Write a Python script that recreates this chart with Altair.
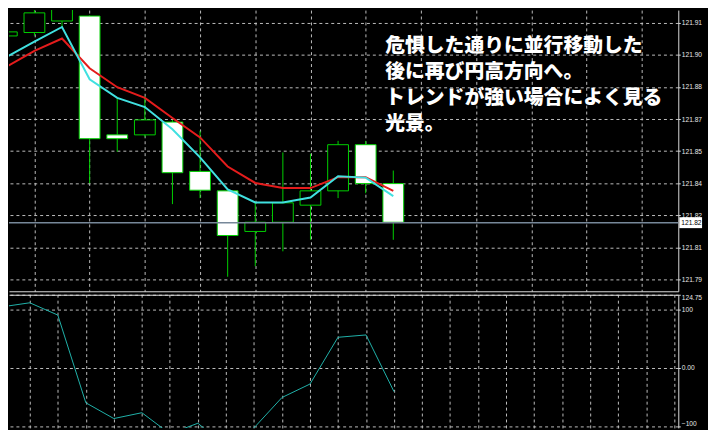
import altair as alt
import pandas as pd

# ---- data ----
bar = list(range(15))
opens = [121.9089, 121.9105, 121.9159, 121.9182, 121.8626, 121.8626, 121.8686, 121.8455,
         121.8364, 121.8174, 121.8217, 121.8297, 121.8364, 121.8580, 121.8398]
highs = [121.9146, 121.9261, 121.9270, 121.9185, 121.8799, 121.8807, 121.8696, 121.8645,
         121.8367, 121.8313, 121.8544, 121.8538, 121.8598, 121.8598, 121.8459]
lows = [121.8960, 121.9090, 121.9131, 121.8399, 121.8547, 121.8617, 121.8302, 121.8330,
        121.7962, 121.8011, 121.8081, 121.8135, 121.8330, 121.8353, 121.8135]
closes = [121.9108, 121.9197, 121.9219, 121.8608, 121.8608, 121.8696, 121.8449, 121.8367,
          121.8155, 121.8217, 121.8308, 121.8364, 121.8580, 121.8398, 121.8217]
ma_fast = [121.8992, 121.9062, 121.9131, 121.8886, 121.8799, 121.8756, 121.8652, 121.8521,
           121.8371, 121.8310, 121.8310, 121.8333, 121.8432, 121.8426, 121.8339]
ma_slow = [121.8946, 121.9019, 121.9077, 121.8938, 121.8849, 121.8799, 121.8705, 121.8614,
           121.8478, 121.8401, 121.8377, 121.8377, 121.8428, 121.8428, 121.8364]
cci = [104, 111, 90, -60, -87, -77, -113, -95, -135, -103, -51, -28, 52, 56, -41]

bid = [121.8215]
price_ticks = [121.795, 121.81, 121.825, 121.84, 121.855, 121.87, 121.885, 121.9, 121.915]
cci_ticks = [124.758, 100, 0, -100]
grid_bars = list(range(1, 25))
note_lines = ["危惧した通りに並行移動した", "後に再び円高方向へ。",
              "トレンドが強い場合によく見る", "光景。"]

GREEN = "#00d000"
GRID = "#bdbdbd"
AXIS = "#dcdcdc"
LABEL = "#e6e6e6"
LFS = 6.7

df = pd.DataFrame({"bar": bar, "open": opens, "high": highs, "low": lows, "close": closes,
                   "ma_fast": ma_fast, "ma_slow": ma_slow, "cci": cci})
df["body"] = ["black" if c >= o else "white" for o, c in zip(opens, closes)]

W = 676
H_TOP = 284
H_BOT = 134.5
TOTAL_W = 700

xscale = alt.Scale(domain=[0.258, 24.145], nice=False, zero=False)


def xaxis(orient):
    return alt.Axis(orient=orient, values=grid_bars, labels=False, ticks=False, title=None,
                    domain=True, domainColor=AXIS, domainWidth=1,
                    grid=True, gridColor=GRID, gridDash=[3, 3], gridWidth=1)


yscale = alt.Scale(domain=[121.7894, 121.9210], nice=False, zero=False)
yaxis = alt.Axis(orient="right", values=price_ticks, title=None,
                 labelExpr="substring(format(datum.value, '.3f'), 0, 6)",
                 labelOverlap=False, labelSeparation=0,
                 domain=True, domainColor=AXIS, ticks=True, tickSize=2, tickColor=AXIS,
                 labelColor=LABEL, labelFontSize=LFS, labelPadding=1,
                 grid=True, gridColor=GRID, gridDash=[3, 3], gridWidth=1)

base = alt.Chart(df)
wicks = base.mark_rule(color=GREEN, strokeWidth=1, clip=True).encode(
    x=alt.X("bar:Q", scale=xscale, axis=xaxis("bottom")),
    y=alt.Y("low:Q", scale=yscale, axis=yaxis),
    y2="high:Q",
)
bodies = base.mark_bar(size=21, stroke=GREEN, strokeWidth=1, clip=True).encode(
    x="bar:Q", y=alt.Y("open:Q", axis=yaxis), y2="close:Q", fill=alt.Fill("body:N", scale=None)
)
slow = base.mark_line(color="#e41c1c", strokeWidth=2, clip=True).encode(
    x="bar:Q", y=alt.Y("ma_slow:Q", axis=yaxis))
fast = base.mark_line(color="#40e0e0", strokeWidth=2, clip=True).encode(
    x="bar:Q", y=alt.Y("ma_fast:Q", axis=yaxis))

bid_df = pd.DataFrame({"bid": bid})
bid_line = alt.Chart(bid_df).mark_rule(color="#778899", strokeWidth=1.5).encode(
    y=alt.Y("bid:Q", axis=yaxis))
bid_box = alt.Chart(bid_df).mark_rule(color="white", strokeWidth=11, strokeCap="butt").encode(
    y=alt.Y("bid:Q", axis=yaxis), x=alt.value(W + 1), x2=alt.value(TOTAL_W)
)
bid_text = alt.Chart(bid_df).mark_text(align="left", baseline="middle", fontSize=LFS,
                                       color="black").encode(
    y=alt.Y("bid:Q", axis=yaxis), x=alt.value(W + 3), text=alt.Text("bid:Q", format=".2f")
)

note = alt.Chart(pd.DataFrame({"t": ["\n".join(note_lines)]})).mark_text(
    align="left", baseline="alphabetic", lineBreak="\n", lineHeight=26.5,
    font="Noto Sans CJK JP", fontSize=20, fontWeight=900, color="white"
).encode(x=alt.value(380), y=alt.value(42), text="t:N")

top = alt.layer(wicks, bodies, slow, fast, bid_line, bid_box, bid_text, note).properties(
    width=W, height=H_TOP
)

cci_axis = alt.Axis(
    orient="right", values=cci_ticks, title=None,
    labelExpr="datum.value == 0 ? '0.00' : (datum.value > 120 ? '124.75' : format(datum.value, 'd'))",
    labelFlush=10, labelOverlap=False,
    domain=True, domainColor=AXIS, ticks=True, tickSize=2, tickColor=AXIS,
    labelColor=LABEL, labelFontSize=LFS, labelPadding=1,
    grid=True, gridColor=GRID, gridDash=[3, 3], gridWidth=1,
)
bottom = alt.Chart(df).mark_line(color="#20b2aa", strokeWidth=1, clip=True).encode(
    x=alt.X("bar:Q", scale=xscale, axis=xaxis("top")),
    y=alt.Y("cci:Q", scale=alt.Scale(domain=[-103, 124.758], nice=False, zero=False), axis=cci_axis),
).properties(width=W, height=H_BOT)

chart = alt.vconcat(top, bottom, spacing=2.5).properties(padding=0).configure(
    background="black", font="Liberation Sans"
).configure_view(stroke=None).configure_axis(labelOverlap=False)

chart.save("out.html", embed_options={"renderer": "svg", "actions": False})
